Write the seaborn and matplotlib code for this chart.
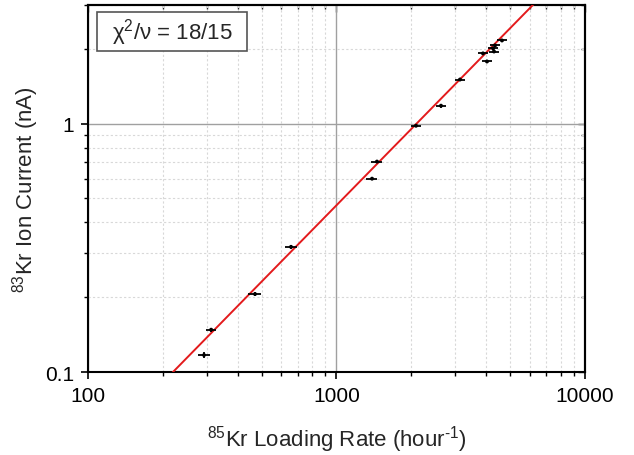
import matplotlib
matplotlib.use("Agg")
import matplotlib.pyplot as plt
import numpy as np
import pandas as pd
import seaborn as sns
from matplotlib.patches import Rectangle
from matplotlib.ticker import LogLocator, NullFormatter

# data
loading_rate = [293, 313, 470, 656, 1390, 1455, 2089, 2633, 3140,
                3886, 4033, 4265, 4303, 4345, 4634]
rate_err = [17, 15, 28, 37, 70, 75, 90, 130, 150,
            190, 200, 200, 200, 210, 220]
ion_current = [0.117, 0.148, 0.206, 0.319, 0.600, 0.703, 0.980, 1.18, 1.504,
               1.916, 1.778, 2.006, 1.95, 2.063, 2.16]
current_err = [0.003, 0.003, 0.004, 0.006, 0.010, 0.012, 0.015, 0.02, 0.025,
               0.03, 0.03, 0.03, 0.03, 0.035, 0.035]

# power law fit  I = a * R^b
fit_amp = 0.1 / 219.8 ** 1.02
fit_exp = 1.02
fit_range = [100, 10000]

x_ticks = [100, 1000, 10000]
x_labels = ["100", "1000", "10000"]
y_ticks = [0.1, 1]
y_labels = ["0.1", "1"]
annot = "χ$^2$/ν = 18/15"

sns.set_theme(style="white")
plt.rcParams['font.family'] = ['Liberation Sans', 'DejaVu Sans']
plt.rcParams['mathtext.fontset'] = 'custom'
plt.rcParams['mathtext.rm'] = 'Liberation Sans'
plt.rcParams['mathtext.it'] = 'Liberation Sans'
plt.rcParams['axes.unicode_minus'] = False

fig = plt.figure(figsize=(6.34, 4.56), dpi=100)
ax = fig.add_axes([0.1388, 0.182, 0.9227 - 0.1388, 0.9868 - 0.182])

df = pd.DataFrame({"rate": loading_rate, "current": ion_current})
xfit = np.logspace(np.log10(fit_range[0]), np.log10(fit_range[1]), 200)
fit_df = pd.DataFrame({"rate": xfit, "current": fit_amp * xfit ** fit_exp})

ax.set_xscale("log")
ax.set_yscale("log")

# grid
ax.grid(True, which="major", color="#a0a0a0", lw=1.0, ls="-", zorder=0)
ax.grid(True, which="minor", color="#d8d8d8", lw=0.8, ls=(0, (2, 2)), zorder=0)

sns.lineplot(data=fit_df, x="rate", y="current", color="#e31a1c", lw=1.4, ax=ax, zorder=3)
ax.errorbar(loading_rate, ion_current, xerr=rate_err, yerr=current_err,
            fmt="none", ecolor="black", elinewidth=1.3, capsize=0, zorder=4)
sns.scatterplot(data=df, x="rate", y="current", color="black", s=8,
                edgecolor="none", ax=ax, zorder=5)

ax.set_xlim(100, 10000)
ax.set_ylim(0.1, 3)
ax.set_xticks(x_ticks)
ax.set_xticklabels(x_labels)
ax.set_yticks(y_ticks)
ax.set_yticklabels(y_labels)
ax.xaxis.set_minor_locator(LogLocator(base=10, subs=np.arange(2, 10)))
ax.yaxis.set_minor_locator(LogLocator(base=10, subs=np.arange(2, 10)))
ax.xaxis.set_minor_formatter(NullFormatter())
ax.yaxis.set_minor_formatter(NullFormatter())

ax.tick_params(which="major", direction="out", length=5, width=1.2, colors="black",
               labelsize=15, bottom=True, left=True, pad=5)
ax.tick_params(which="minor", direction="out", length=3, width=1.0, colors="black",
               bottom=True, left=True)

# inner ticks on top/right like origin
top = ax.secondary_xaxis("top")
top.set_xticks(x_ticks)
top.xaxis.set_minor_locator(LogLocator(base=10, subs=np.arange(2, 10)))
top.tick_params(which="both", direction="in", labeltop=False, width=1.0)
top.tick_params(which="major", length=5)
top.tick_params(which="minor", length=3)
right = ax.secondary_yaxis("right")
right.set_yticks(y_ticks)
right.yaxis.set_minor_locator(LogLocator(base=10, subs=np.arange(2, 10)))
right.tick_params(which="both", direction="in", labelright=False, width=1.0)
right.tick_params(which="major", length=5)
right.tick_params(which="minor", length=3)

for s in ax.spines.values():
    s.set_color("black")
    s.set_linewidth(1.5)
for a in (top, right):
    for s in a.spines.values():
        s.set_color("black")
        s.set_linewidth(1.5)

ax.set_xlabel(r"$^{85}$Kr Loading Rate (hour$^{\text{-1}}$)", fontsize=16, labelpad=13)
ax.set_ylabel("$^{83}$Kr Ion Current (nA)", fontsize=16, labelpad=3)

# the chi2 box
ax.add_patch(Rectangle((0.018, 0.875), 0.302, 0.106, transform=ax.transAxes,
                       fc="white", ec="#555555", lw=1.2, zorder=6))
ax.text(0.169, 0.928, annot, transform=ax.transAxes, fontsize=16, va="center",
        ha="center", zorder=7)

fig.savefig("out.png", dpi=100)
